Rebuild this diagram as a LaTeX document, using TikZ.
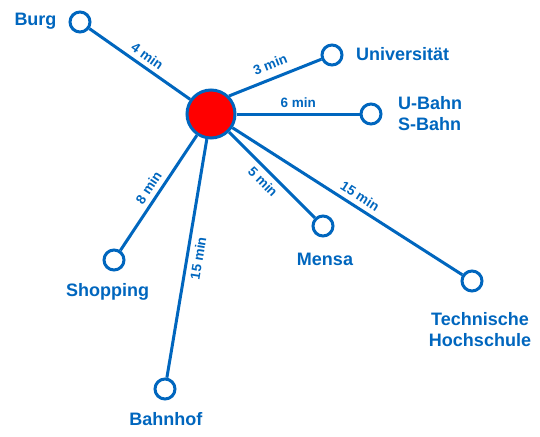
\documentclass[tikz,border=0pt]{standalone}
\usepackage{fontspec}
\setmainfont{Liberation Sans}
\definecolor{netblue}{RGB}{0,102,190}
\begin{document}
\begin{tikzpicture}[x=1pt,y=-1pt,
  stop/.style={circle,draw=netblue,line width=3pt,fill=white,minimum size=20pt,inner sep=0pt},
  hub/.style={circle,draw=netblue,line width=3pt,fill=red,minimum size=48pt,inner sep=0pt},
  link/.style={draw=netblue,line width=3pt},
  place/.style={text=netblue,font=\bfseries\fontsize{18}{20.7}\selectfont,inner sep=0pt},
  mins/.style={text=netblue,font=\bfseries\fontsize{13.5}{16}\selectfont,inner sep=0pt,sloped}]
\useasboundingbox (0,0) rectangle (540,436);
% nodes
\node[hub] (c) at (211,114) {};
\node[stop] (burg) at (80,22) {};
\node[stop] (uni) at (332,55) {};
\node[stop] (ubahn) at (371,114) {};
\node[stop] (mensa) at (323,226) {};
\node[stop] (th) at (472,281) {};
\node[stop] (shop) at (114,260) {};
\node[stop] (bhf) at (165,389) {};
% links
\draw[link] (c) -- (burg);
\draw[link] (c.45) -- (uni);
\draw[link] (c) -- (ubahn);
\draw[link] (c) -- (mensa);
\draw[link] (c) -- (th);
\draw[link] (c) -- (shop);
\draw[link] (c) -- (bhf);
% travel times
\path (c.center) -- node[mins,pos=0.534,above=6pt] (t1) {4 min} (burg.center);
\path (c.45) -- node[mins,pos=0.45,above=9pt] (t2) {3 min} (uni.center);
\path (c.center) -- node[mins,pos=0.545,above=6pt] (t3) {6 min} (ubahn.center);
\path (c.center) -- node[mins,pos=0.535,below=6pt] (t4) {5 min} (mensa.center);
\path (c.center) -- node[mins,pos=0.548,above=6pt] (t5) {15 min} (th.center);
\path (c.center) -- node[mins,pos=0.548,above=6pt] (t6) {8 min} (shop.center);
\path (c.center) -- node[mins,pos=0.518,below=6pt] (t7) {15 min} (bhf.center);
% place names
\node[place,anchor=base] (lburg) at (35.5,25.7) {Burg};
\node[place,anchor=base west] (luni) at (356,60.5) {Universität};
\node[place,anchor=west,align=left] (lubahn) at (398,113.8) {U-Bahn\\S-Bahn};
\node[place,anchor=base] (lmensa) at (325,265) {Mensa};
\node[place,align=center] (lth) at (480,329.8) {Technische\\Hochschule};
\node[place,anchor=base] (lshop) at (107.5,296.7) {Shopping};
\node[place,anchor=base] (lbhf) at (165.8,425) {Bahnhof};
\end{tikzpicture}
\end{document}
